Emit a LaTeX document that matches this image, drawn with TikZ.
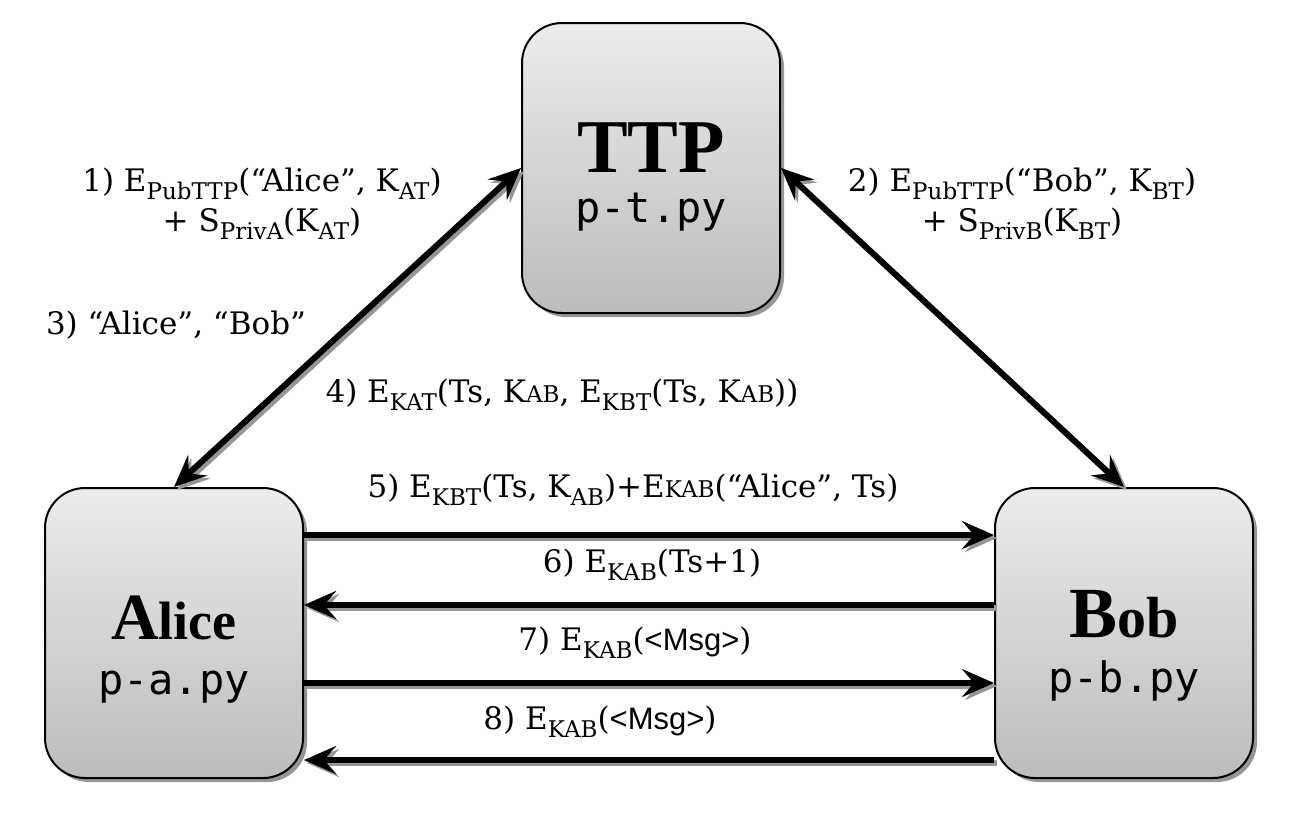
\documentclass[tikz,border=0pt]{standalone}
\usepackage{fontspec}
\setmainfont{DejaVu Serif}
\setmonofont{DejaVu Sans Mono}
\newfontfamily\titlefont{Liberation Serif}
\newfontfamily\msgfont{Liberation Sans}
\usepackage{tikz}
\usetikzlibrary{arrows.meta,shadows}
\definecolor{boxtop}{RGB}{236,236,236}
\definecolor{boxbot}{RGB}{188,188,188}
\definecolor{shade}{RGB}{150,150,150}

\newcommand{\low}[1]{\raisebox{-4pt}{\fontsize{11.5}{11.5}\selectfont #1}}
\newcommand{\lite}[1]{{\fontsize{11.5}{11.5}\selectfont #1}}

\begin{document}
\begin{tikzpicture}[x=0.5pt,y=-0.5pt,
  party/.style={draw=black,line width=1pt,rounded corners=20pt,
    minimum width=129pt,minimum height=145pt,
    top color=boxtop,bottom color=boxbot,
    drop shadow={shadow xshift=2pt,shadow yshift=-2pt,fill=shade,opacity=1}},
  partytext/.style={align=center,inner sep=0pt},
  mtip/.tip={Stealth[length=16pt,width=14pt,inset=6pt]},
  msg/.style={line width=3pt},
  msgs/.style={msg,draw=shade,transform canvas={shift={(1.5pt,-1.5pt)}}},
  lbl/.style={font=\fontsize{15.5}{20}\selectfont,align=center}]
  \useasboundingbox (0,0) rectangle (1294,826);

  % the three parties
  \node[party] (ttp) at (651,168) {};
  \node[party] (alice) at (174,633) {};
  \node[party] (bob) at (1124,633) {};
  \node[partytext,font=\fontsize{21}{25}\selectfont] (ttptxt) at ([yshift=-4.5pt]ttp.center)
    {{\titlefont\bfseries\fontsize{38}{40}\selectfont TTP}\\{\ttfamily p-t.py}};
  \node[partytext,font=\fontsize{21}{27.5}\selectfont] (alicetxt) at ([yshift=-8.5pt]alice.center)
    {{\titlefont\bfseries{\fontsize{33}{36}\selectfont A}\fontsize{27}{36}\selectfont lice}\\{\ttfamily p-a.py}};
  \node[partytext,font=\fontsize{21}{27.5}\selectfont] (bobtxt) at ([yshift=-6.5pt]bob.center)
    {{\titlefont\bfseries{\fontsize{36}{36}\selectfont B}\fontsize{29}{36}\selectfont ob}\\{\ttfamily p-b.py}};

  % TTP links
  \draw[msgs,mtip-mtip] (alice.north) -- (ttp.west);
  \draw[msg,mtip-mtip] (alice.north) -- (ttp.west);
  \draw[msgs,mtip-mtip] (ttp.east) -- (bob.north);
  \draw[msg,mtip-mtip] (ttp.east) -- (bob.north);

  % Alice <-> Bob
  \foreach \dy/\from/\to in {49/alice.east/bob.west, 14/bob.west/alice.east,
      -25/alice.east/bob.west, -63.5/bob.west/alice.east} {
    \draw[msgs,-mtip] ([yshift=\dy pt]\from) -- ([yshift=\dy pt]\to);
    \draw[msg,-mtip] ([yshift=\dy pt]\from) -- ([yshift=\dy pt]\to);
  }

  % labels
  \node[lbl] (l1) at (262,204) {1) E\low{PubTTP}(“Alice”, K\low{AT})\\+ S\low{PrivA}(K\low{AT})};
  \node[lbl] (l2) at (1022,204) {2) E\low{PubTTP}(“Bob”, K\low{BT})\\+ S\low{PrivB}(K\low{BT})};
  \node[lbl] (l3) at (176,325) {3) “Alice”, “Bob”};
  \node[lbl] (l4) at (562,395) {4) E\low{KAT}(Ts, K\lite{AB}, E\low{KBT}(Ts, K\lite{AB}))};
  \node[lbl] (l5) at (633,490) {5) E\low{KBT}(Ts, K\low{AB})+E\lite{KAB}(“Alice”, Ts)};
  \node[lbl] (l6) at (652,565) {6) E\low{KAB}(Ts+1)};
  \node[lbl] (l7) at (635,643) {7) E\low{KAB}({\msgfont <Msg>})};
  \node[lbl] (l8) at (600,722) {8) E\low{KAB}({\msgfont <Msg>})};
\end{tikzpicture}
\end{document}
